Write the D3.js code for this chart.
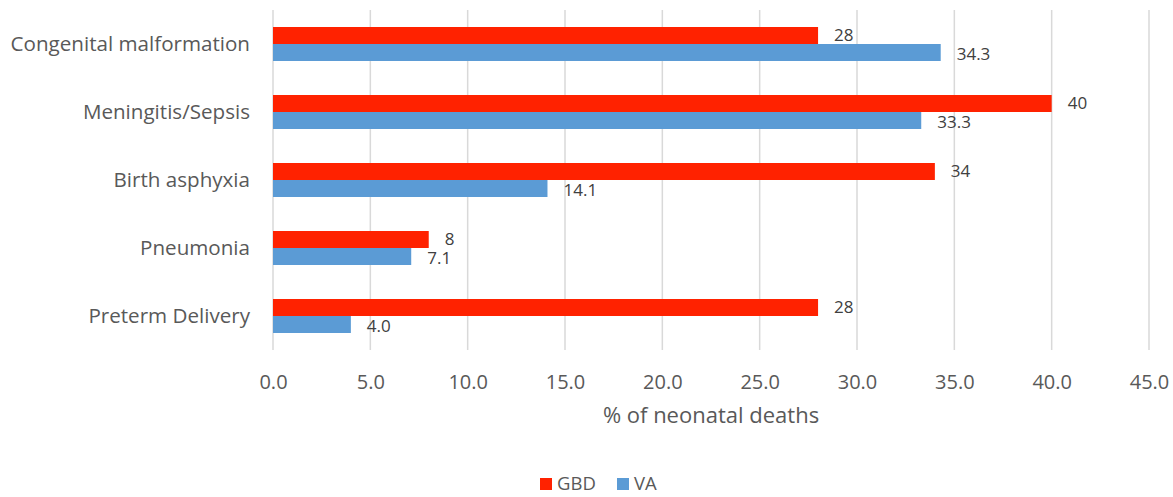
<!DOCTYPE html>
<html>
<head>
<meta charset="utf-8">
<script src="https://cdn.jsdelivr.net/npm/d3@7"></script>
<style>
  html, body { margin: 0; padding: 0; background: #fff; }
  svg { display: block; }
  svg text { font-family: "Open Sans", "Noto Sans", sans-serif; }
</style>
</head>
<body>
<svg id="chart" width="1173" height="497"></svg>
<script>
// Causes of neonatal death, top to bottom
const categories = ["Congenital malformation", "Meningitis/Sepsis", "Birth asphyxia", "Pneumonia", "Preterm Delivery"];
const seriesNames = ["GBD", "VA"];
const gbdValues = [28, 40, 34, 8, 28];
const vaValues = [34.3, 33.3, 14.1, 7.1, 4.0];
const gbdLabels = ["28", "40", "34", "8", "28"];
const vaLabels = ["34.3", "33.3", "14.1", "7.1", "4.0"];
const xTicks = [0, 5, 10, 15, 20, 25, 30, 35, 40, 45];
const axisTitle = "% of neonatal deaths";

const colors = { GBD: "#FF2200", VA: "#5B9BD5" };
const textColor = "#595959";
const gridColor = "#D9D9D9";

const svg = d3.select("#chart");
const plot = { left: 273, right: 1149, top: 10, bottom: 350 };

const x = d3.scaleLinear().domain([0, 45]).range([plot.left, plot.right]);
const y = d3.scaleBand().domain(categories).range([plot.top, plot.bottom]).paddingInner(0.5).paddingOuter(0.25);
const ySub = d3.scaleBand().domain(seriesNames).range([0, y.bandwidth()]);

// Vertical gridlines
svg.append("g")
  .selectAll("line")
  .data(xTicks)
  .join("line")
  .attr("x1", d => x(d)).attr("x2", d => x(d))
  .attr("y1", plot.top).attr("y2", plot.bottom)
  .attr("stroke", gridColor).attr("stroke-width", 1.5);

// X axis tick labels
const xAxis = d3.axisBottom(x).tickValues(xTicks).tickFormat(d3.format(".1f")).tickSize(0).tickPadding(0);
const gx = svg.append("g").attr("transform", `translate(0,${plot.bottom})`).call(xAxis);
gx.attr("font-family", null).attr("font-size", null);
gx.select(".domain").remove();
gx.selectAll("text")
  .attr("dy", null)
  .attr("y", 39)
  .attr("fill", textColor)
  .style("font-size", "20px");

// Category labels
const yAxis = d3.axisLeft(y).tickSize(0).tickPadding(0);
const gy = svg.append("g").attr("transform", `translate(${plot.left - 23},0)`).call(yAxis);
gy.attr("font-family", null).attr("font-size", null);
gy.select(".domain").remove();
gy.selectAll("text")
  .attr("fill", textColor)
  .attr("dy", "0.35em")
  .style("font-size", "20.6px");

// Bars
const rows = categories.map((c, i) => ({
  cat: c,
  items: [
    { s: "GBD", v: gbdValues[i], label: gbdLabels[i] },
    { s: "VA", v: vaValues[i], label: vaLabels[i] }
  ]
}));

const groups = svg.append("g")
  .selectAll("g")
  .data(rows)
  .join("g")
  .attr("transform", d => `translate(0,${y(d.cat)})`);

groups.selectAll("rect")
  .data(d => d.items)
  .join("rect")
  .attr("x", x(0))
  .attr("y", d => ySub(d.s))
  .attr("width", d => x(d.v) - x(0))
  .attr("height", ySub.bandwidth())
  .attr("fill", d => colors[d.s]);

groups.selectAll("text")
  .data(d => d.items)
  .join("text")
  .attr("x", d => x(d.v) + 16)
  .attr("y", d => ySub(d.s) + ySub.bandwidth() / 2 + (d.s === "GBD" ? -0.5 : 1.5))
  .attr("dy", "0.35em")
  .attr("fill", "#404040")
  .style("font-size", "17px")
  .text(d => d.label);

// Axis title
svg.append("text")
  .attr("x", 711)
  .attr("y", 423)
  .attr("text-anchor", "middle")
  .attr("fill", textColor)
  .style("font-size", "22px")
  .text(axisTitle);

// Legend
const legend = svg.append("g").attr("transform", "translate(540,484)");
const legendItems = [{ s: "GBD", x: 0 }, { s: "VA", x: 77 }];
const li = legend.selectAll("g").data(legendItems).join("g").attr("transform", d => `translate(${d.x},0)`);
li.append("rect").attr("x", 0).attr("y", -6).attr("width", 12).attr("height", 12).attr("fill", d => colors[d.s]);
li.append("text").attr("x", 17).attr("dy", "0.35em").attr("fill", textColor).style("font-size", "18.5px").text(d => d.s);
</script>
</body>
</html>
